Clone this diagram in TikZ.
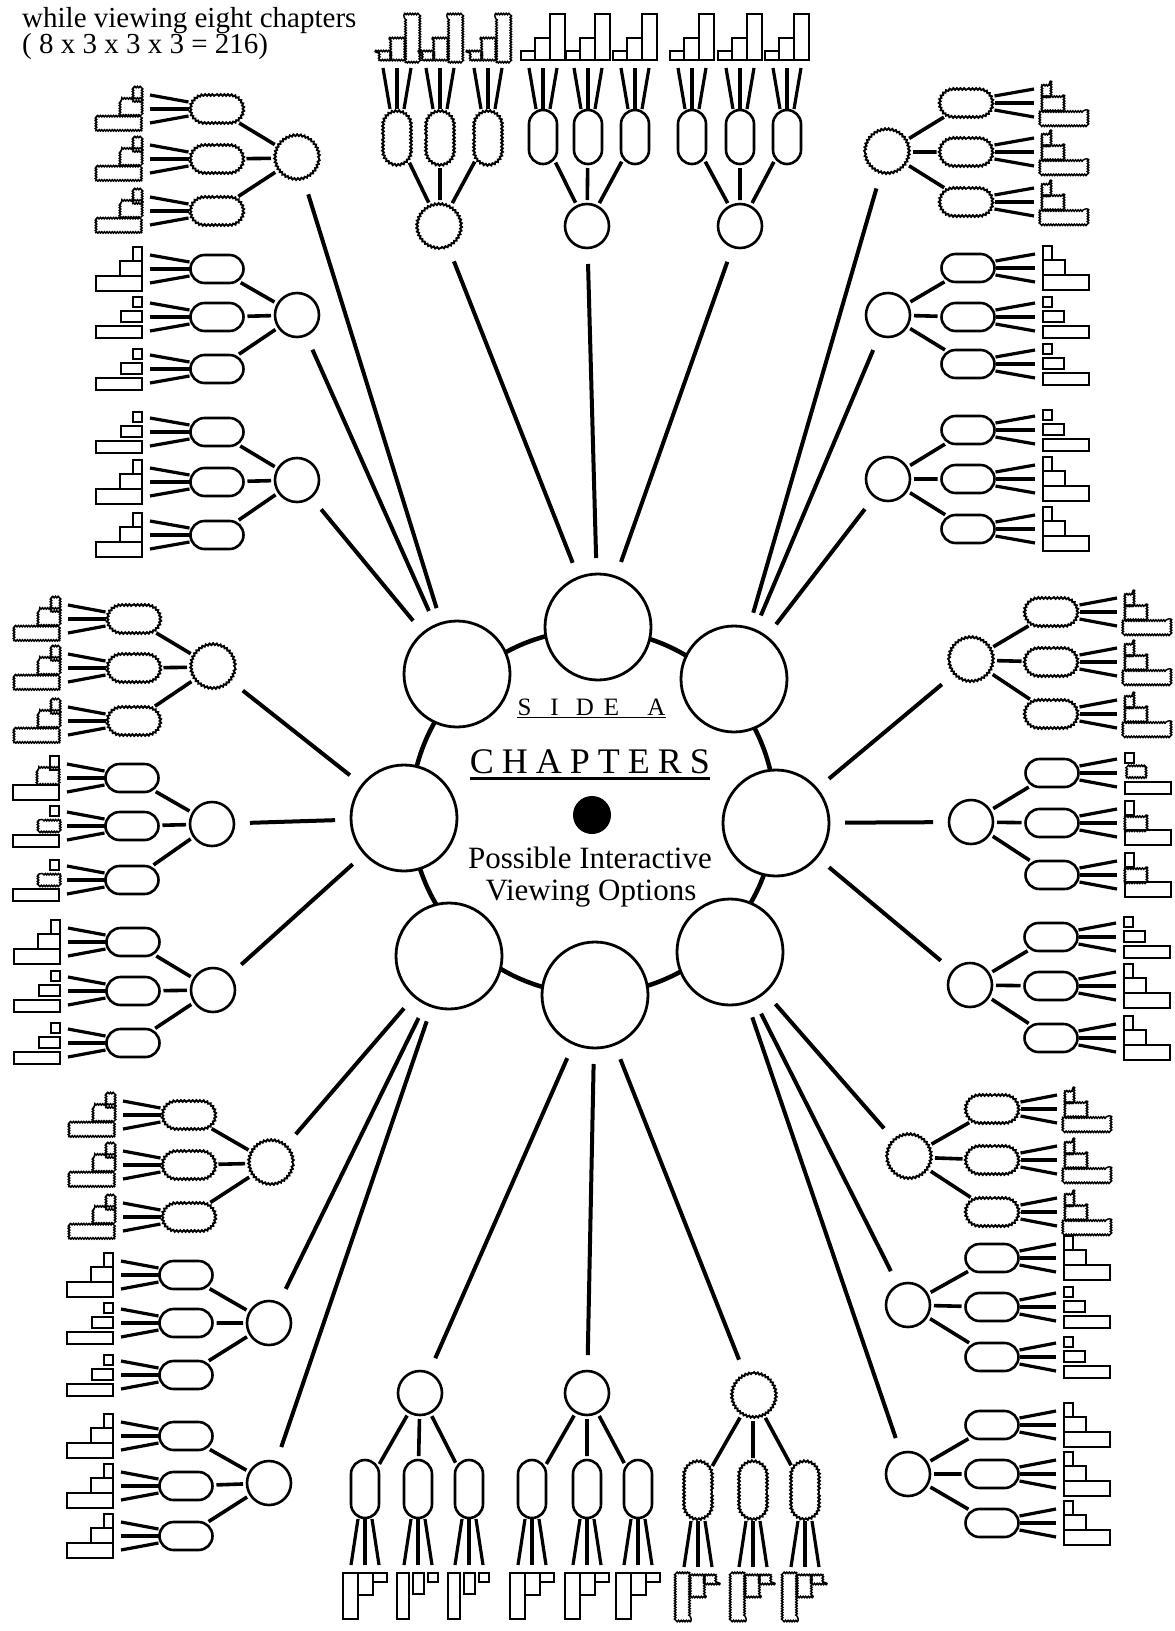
\documentclass[tikz,border=0pt]{standalone}
\usepackage{fontspec}
\setmainfont{Liberation Serif}
\usetikzlibrary{decorations.pathmorphing, shapes.misc}

\tikzset{
  chap/.style={circle, draw, line width=2.8pt, fill=white, minimum size=106pt, inner sep=0pt, outer sep=0pt},
  ringline/.style={line width=4.5pt},
  bigconn/.style={line width=4pt, shorten <=16pt, shorten >=16pt},
  midconn/.style={line width=3.6pt, shorten <=4pt, shorten >=4pt},
  fanline/.style={line width=3.2pt},
  circS/.style={circle, draw, line width=2.6pt, minimum size=44pt, inner sep=0pt, outer sep=0pt},
  circF/.style={circle, draw, line width=1.9pt, minimum size=44pt, inner sep=0pt, outer sep=0pt,
                decorate, decoration={snake, segment length=3.6pt, amplitude=0.9pt}},
  ovalS/.style={rounded rectangle, draw, line width=2.6pt, minimum height=28pt, inner sep=0pt, outer sep=0pt},
  ovalF/.style={rounded rectangle, draw, line width=1.9pt, minimum height=28pt, inner sep=0pt, outer sep=0pt,
                decorate, decoration={snake, segment length=3.6pt, amplitude=0.9pt}},
  barS/.style={line width=2pt},
  barF/.style={line width=1.5pt, decorate, decoration={snake, segment length=2.6pt, amplitude=0.7pt}},
  ttext/.style={inner sep=0pt, anchor=base},
}

% icon of three bars; base at u=-#1, centred on v=#2, variant #3, kind #4
\newcommand\iconbars[4]{%
  \ifcase#3\relax
    \draw[bar#4] (-#1-9,#2-22) rectangle (-#1,#2-8);
    \draw[bar#4] (-#1-22,#2-8) rectangle (-#1,#2+7);
    \draw[bar#4] (-#1-46,#2+7) rectangle (-#1,#2+22);
  \or
    \draw[bar#4] (-#1-9,#2-20) rectangle (-#1,#2-10);
    \draw[bar#4] (-#1-21,#2-6) rectangle (-#1,#2+5);
    \draw[bar#4] (-#1-46,#2+9) rectangle (-#1,#2+21);
  \or
    \draw[bar#4] (-#1-9,#2-22) rectangle (-#1,#2-8);
    \draw[barF] (-#1-22,#2-8) rectangle (-#1,#2+7);
    \draw[bar#4] (-#1-46,#2+7) rectangle (-#1,#2+22);
  \or
    \draw[bar#4] (-#1-9,#2-20) rectangle (-#1,#2-10);
    \draw[barF] (-#1-21,#2-6) rectangle (-#1,#2+5);
    \draw[bar#4] (-#1-46,#2+9) rectangle (-#1,#2+21);
  \fi}

% #1 name, #2 centre, #3 matrix, #4 oval distance, #5 icon base distance,
% #6 list offset/variant, #7 kind S/F, #8 oval length
\newcommand\cluster[8]{%
  \begin{scope}[shift={(#2)}, cm={#3,(0,0)}, transform shape]
    \node[circ#7] (#1) at (0,0) {};
    \foreach \ov/\code [count=\k] in {#6}{
      \node[oval#7, minimum width=#8] (#1o\k) at (-#4,\ov) {};
      \draw[midconn] (#1) -- (#1o\k);
      \coordinate (#1s\k-a) at (-#4-#8/2-1,\ov-7);
      \coordinate (#1s\k-b) at (-#4-#8/2-1,\ov);
      \coordinate (#1s\k-c) at (-#4-#8/2-1,\ov+7);
      \coordinate (#1e\k-a) at (-#5+8,\ov-14);
      \coordinate (#1e\k-b) at (-#5+8,\ov);
      \coordinate (#1e\k-c) at (-#5+8,\ov+14);
      \draw[fanline] (#1s\k-a) -- (#1e\k-a);
      \draw[fanline] (#1s\k-b) -- (#1e\k-b);
      \draw[fanline] (#1s\k-c) -- (#1e\k-c);
      \iconbars{#5}{\ov}{\code}{#7}
    }
  \end{scope}}

\begin{document}
\begin{tikzpicture}[x=1pt, y=-1pt]
  \fill[white] (0,0) rectangle (1175,1631);
  \useasboundingbox (0,0) rectangle (1175,1631);

  % heading
  \node[ttext, anchor=base west, font=\fontsize{29}{26}\selectfont] (head1) at (22,27) {while viewing eight chapters};
  \node[ttext, anchor=base west, font=\fontsize{29}{26}\selectfont] (head2) at (22,53) {( 8 x 3 x 3 x 3 = 216)};

  % ring and chapters
  \coordinate (ringc) at (593,812);
  \draw[ringline] (ringc) circle[radius=182pt];
  \node[chap] (chT)  at (598,627) {};
  \node[chap] (chUL) at (457,674) {};
  \node[chap] (chUR) at (734,679) {};
  \node[chap] (chL)  at (404,818) {};
  \node[chap] (chR)  at (776,823) {};
  \node[chap] (chLL) at (449,956) {};
  \node[chap] (chB)  at (595,995) {};
  \node[chap] (chLR) at (730,952) {};

  % central texts
  \node[ttext, font=\fontsize{25}{28}\selectfont] (sidea) at (591.5,715)
     {S\kern19pt I\kern17pt D\kern10pt E\kern11pt\ \kern11pt A};
  \draw[line width=1.8pt] ([yshift=-2pt]sidea.south west) -- ([yshift=-2pt]sidea.south east);
  \node[ttext, font=\fontsize{36}{40}\selectfont] (chapters) at (590,773)
     {C\kern8pt H\kern8pt A\kern8pt P\kern8pt T\kern8pt E\kern8pt R\kern8pt S};
  \draw[line width=2.2pt] ([yshift=-5pt]chapters.south west) -- ([yshift=-5pt]chapters.south east);
  \node[circle, fill=black, minimum size=38pt, inner sep=0pt] (dot) at (592,815) {};
  \node[ttext, font=\fontsize{31}{34}\selectfont] (pio1) at (590,868) {Possible Interactive};
  \node[ttext, font=\fontsize{31}{34}\selectfont] (pio2) at (591,900) {Viewing Options};

  % clusters
  \cluster{T1}{440,226}{0,-1,-1,0}{89}{166}{-43/0,0/0,48/0}{F}{54}
  \cluster{T2}{587,226}{0,-1,-1,0}{89}{166}{-44/0,1/0,48/0}{S}{54}
  \cluster{T3}{740,226}{0,-1,-1,0}{89}{166}{-48/0,0/0,47/0}{S}{54}

  \cluster{UL1}{297,158}{1,0,0,1}{81}{155}{-49/0,1/0,53/0}{F}{53}
  \cluster{UL2}{297,315}{1,0,0,1}{80}{155}{-46/0,2/1,54/1}{S}{53}
  \cluster{UL3}{297,480}{1,0,0,1}{80}{155}{-48/1,2/0,55/0}{S}{53}

  \cluster{UR1}{887,152}{-1,0,0,1}{80}{155}{-49/0,0/0,50/0}{F}{53}
  \cluster{UR2}{888,315}{-1,0,0,1}{80}{155}{-47/0,2/1,49/1}{S}{53}
  \cluster{UR3}{888,479}{-1,0,0,1}{80}{155}{-49/1,0/0,50/0}{S}{53}

  \cluster{LM1}{213,667}{1,0,0,1}{80}{153}{-48/0,1/0,54/0}{F}{53}
  \cluster{LM2}{212,824}{1,0,0,1}{80}{153}{-46/2,2/3,56/3}{S}{53}
  \cluster{LM3}{213,990}{1,0,0,1}{80}{153}{-48/0,1/1,53/1}{S}{53}

  \cluster{RM1}{971,660}{-1,0,0,1}{81}{154}{-48/0,2/0,54/0}{F}{53}
  \cluster{RM2}{971,822}{-1,0,0,1}{81}{154}{-49/3,1/2,53/2}{S}{53}
  \cluster{RM3}{970,985}{-1,0,0,1}{81}{154}{-48/1,1/0,53/0}{S}{53}

  \cluster{LL1}{271,1163}{1,0,0,1}{83}{156}{-48/0,2/0,54/0}{F}{53}
  \cluster{LL2}{269,1323}{1,0,0,1}{83}{156}{-48/0,0/1,52/1}{S}{53}
  \cluster{LL3}{269,1483}{1,0,0,1}{83}{156}{-47/0,3/0,53/0}{S}{53}

  \cluster{LR1}{909,1157}{-1,0,0,1}{84}{156}{-48/0,3/0,55/0}{F}{53}
  \cluster{LR2}{908,1305}{-1,0,0,1}{84}{156}{-47/0,2/1,52/1}{S}{53}
  \cluster{LR3}{908,1474}{-1,0,0,1}{84}{156}{-49/0,0/0,49/0}{S}{53}

  \cluster{B1}{420,1393}{0,1,1,0}{96}{180}{55/0,2/1,-49/1}{S}{58}
  \cluster{B2}{587,1393}{0,1,1,0}{96}{180}{55/0,0/0,-51/0}{S}{58}
  \cluster{B3}{753,1395}{0,1,1,0}{96}{180}{55/0,0/0,-52/0}{F}{58}

  % chapter connectors
  \foreach \ch/\cl in {chT/T1, chT/T2, chT/T3,
                       chUL/UL1, chUL/UL2, chUL/UL3,
                       chUR/UR1, chUR/UR2, chUR/UR3,
                       chL/LM1, chL/LM2, chL/LM3,
                       chR/RM1, chR/RM2, chR/RM3,
                       chLL/LL1, chLL/LL2, chLL/LL3,
                       chB/B1, chB/B2, chB/B3,
                       chLR/LR1, chLR/LR2, chLR/LR3}
    \draw[bigconn] (\ch) -- (\cl);
\end{tikzpicture}
\end{document}
